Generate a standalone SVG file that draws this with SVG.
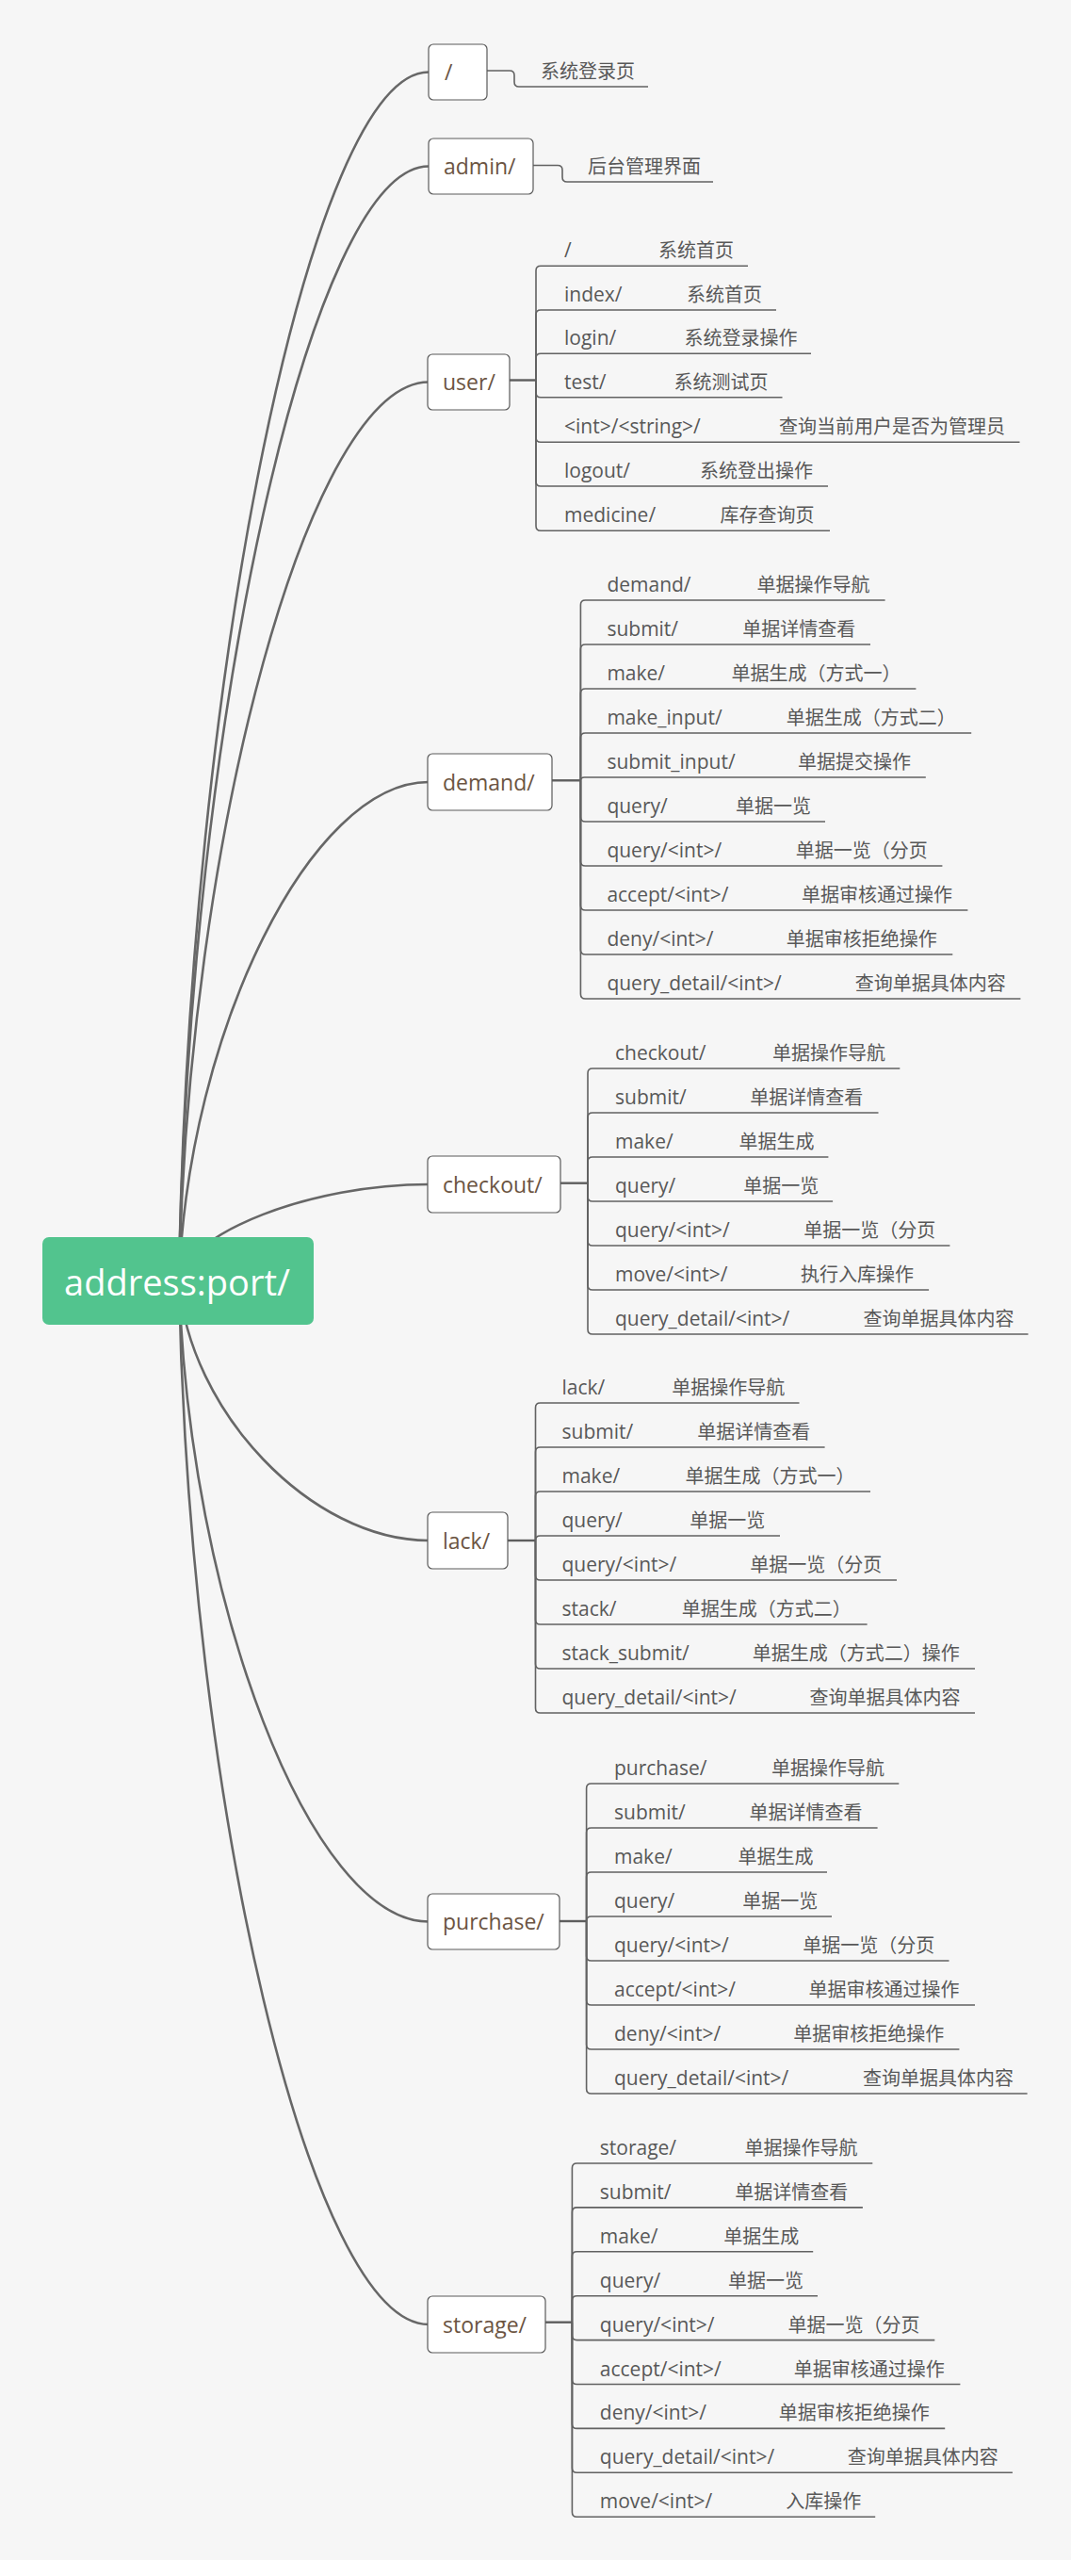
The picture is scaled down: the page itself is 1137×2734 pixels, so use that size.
<svg xmlns="http://www.w3.org/2000/svg" width="1137" height="2734" viewBox="0 0 1137 2734">
<style>
.main{fill:none;stroke:#676767;stroke-width:2.6}
.leaf{fill:none;stroke:#626262;stroke-width:1.6}
.nc{fill:none;stroke:#5e5e5e;stroke-width:2.4}
.nrect{fill:#ffffff;stroke:#5a5a5a;stroke-width:1.2}
.ntext{font-family:"Open Sans","Noto Sans CJK SC",sans-serif;font-size:23px;fill:#6b5442}
.lt{font-family:"Open Sans","Noto Sans CJK SC",sans-serif;font-size:21px;fill:#585858}
.ct{font-family:"Noto Sans CJK SC",sans-serif;font-size:20px;fill:#585858}
</style>
<rect x="0" y="0" width="1137" height="2734" fill="#ffffff"/>
<rect x="0" y="0" width="1137" height="2717" fill="#f6f6f6"/>
<g id="connectors">
<path class="main" d="M190,1359 C200,717.8 330,76.5 455,76.5"/>
<path class="main" d="M190,1359 C200,767.8 330,176.5 455,176.5"/>
<path class="main" d="M190,1359 C200,882.3 330,405.5 455,405.5"/>
<path class="main" d="M190,1359 C200,1094.5 330,830 455,830"/>
<path class="main" d="M190,1359 C200,1308 330,1257 455,1257"/>
<path class="main" d="M190,1359 C200,1497 330,1635 455,1635"/>
<path class="main" d="M190,1359 C200,1699.3 330,2039.5 455,2039.5"/>
<path class="main" d="M190,1359 C200,1913 330,2467 455,2467"/>
<!-- / -->
<path class="leaf" d="M517,75 H541 Q546,75 546,80 V87 Q546,92 551,92 H688"/>
<!-- admin -->
<path class="leaf" d="M566,175.5 H592 Q597,175.5 597,180.5 V188 Q597,193 602,193 H757"/>
<!-- user -->
<line class="nc" x1="541" y1="403.5" x2="569" y2="403.5"/>
<path class="leaf" d="M569,403.5 V287.3 Q569,282.3 574,282.3 H794"/>
<path class="leaf" d="M569,403.5 V334 Q569,329 574,329 H824"/>
<path class="leaf" d="M569,403.5 V380.3 Q569,375.3 574,375.3 H861"/>
<path class="leaf" d="M569,403.5 V416.7 Q569,421.7 574,421.7 H830.5"/>
<path class="leaf" d="M569,403.5 V464.3 Q569,469.3 574,469.3 H1082.5"/>
<path class="leaf" d="M569,403.5 V511 Q569,516 574,516 H879"/>
<path class="leaf" d="M569,403.5 V558.3 Q569,563.3 574,563.3 H881"/>
<!-- demand -->
<line class="nc" x1="586" y1="828.3" x2="616.4" y2="828.3"/>
<path class="leaf" d="M616.4,828.3 V642 Q616.4,637 621.4,637 H939.6"/>
<path class="leaf" d="M616.4,828.3 V689 Q616.4,684 621.4,684 H924"/>
<path class="leaf" d="M616.4,828.3 V736 Q616.4,731 621.4,731 H972.4"/>
<path class="leaf" d="M616.4,828.3 V783 Q616.4,778 621.4,778 H1031.2"/>
<path class="leaf" d="M616.4,828.3 Q616.4,825 620.4,825 H982.8"/>
<path class="leaf" d="M616.4,828.3 V867 Q616.4,872 621.4,872 H876"/>
<path class="leaf" d="M616.4,828.3 V914 Q616.4,919 621.4,919 H1000.4"/>
<path class="leaf" d="M616.4,828.3 V961 Q616.4,966 621.4,966 H1027.4"/>
<path class="leaf" d="M616.4,828.3 V1008 Q616.4,1013 621.4,1013 H1011.3"/>
<path class="leaf" d="M616.4,828.3 V1055 Q616.4,1060 621.4,1060 H1083.4"/>
<!-- checkout -->
<line class="nc" x1="595" y1="1255.7" x2="624" y2="1255.7"/>
<path class="leaf" d="M624,1255.7 V1139 Q624,1134 629,1134 H955.3"/>
<path class="leaf" d="M624,1255.7 V1186 Q624,1181 629,1181 H932.5"/>
<path class="leaf" d="M624,1255.7 V1233 Q624,1228 629,1228 H879.4"/>
<path class="leaf" d="M624,1255.7 V1270 Q624,1275 629,1275 H884.1"/>
<path class="leaf" d="M624,1255.7 V1317 Q624,1322 629,1322 H1008.4"/>
<path class="leaf" d="M624,1255.7 V1364 Q624,1369 629,1369 H986.1"/>
<path class="leaf" d="M624,1255.7 V1411 Q624,1416 629,1416 H1091.5"/>
<!-- lack -->
<line class="nc" x1="539" y1="1635" x2="568.5" y2="1635"/>
<path class="leaf" d="M568.5,1635 V1494 Q568.5,1489 573.5,1489 H848.5"/>
<path class="leaf" d="M568.5,1635 V1541 Q568.5,1536 573.5,1536 H875.6"/>
<path class="leaf" d="M568.5,1635 V1588 Q568.5,1583 573.5,1583 H924"/>
<path class="leaf" d="M568.5,1635 Q568.5,1630 573.5,1630 H828"/>
<path class="leaf" d="M568.5,1635 V1672 Q568.5,1677 573.5,1677 H952"/>
<path class="leaf" d="M568.5,1635 V1719 Q568.5,1724 573.5,1724 H920.6"/>
<path class="leaf" d="M568.5,1635 V1766 Q568.5,1771 573.5,1771 H1035"/>
<path class="leaf" d="M568.5,1635 V1813 Q568.5,1818 573.5,1818 H1035"/>
<!-- purchase -->
<line class="nc" x1="594" y1="2039" x2="622.6" y2="2039"/>
<path class="leaf" d="M622.6,2039 V1898 Q622.6,1893 627.6,1893 H954.3"/>
<path class="leaf" d="M622.6,2039 V1945 Q622.6,1940 627.6,1940 H931.6"/>
<path class="leaf" d="M622.6,2039 V1992 Q622.6,1987 627.6,1987 H878"/>
<path class="leaf" d="M622.6,2039 Q622.6,2034 627.6,2034 H883"/>
<path class="leaf" d="M622.6,2039 V2076 Q622.6,2081 627.6,2081 H1007.5"/>
<path class="leaf" d="M622.6,2039 V2123 Q622.6,2128 627.6,2128 H1035"/>
<path class="leaf" d="M622.6,2039 V2170 Q622.6,2175 627.6,2175 H1018.4"/>
<path class="leaf" d="M622.6,2039 V2217 Q622.6,2222 627.6,2222 H1090.6"/>
<!-- storage -->
<line class="nc" x1="579" y1="2464.7" x2="607.4" y2="2464.7"/>
<path class="leaf" d="M607.4,2464.7 V2301 Q607.4,2296 612.4,2296 H926.3"/>
<path class="leaf" d="M607.4,2464.7 V2347.9 Q607.4,2342.9 612.4,2342.9 H915.9"/>
<path class="leaf" d="M607.4,2464.7 V2394.8 Q607.4,2389.8 612.4,2389.8 H863.2"/>
<path class="leaf" d="M607.4,2464.7 V2441.7 Q607.4,2436.7 612.4,2436.7 H868"/>
<path class="leaf" d="M607.4,2464.7 V2478.6 Q607.4,2483.6 612.4,2483.6 H992.3"/>
<path class="leaf" d="M607.4,2464.7 V2525.5 Q607.4,2530.5 612.4,2530.5 H1019.4"/>
<path class="leaf" d="M607.4,2464.7 V2572.4 Q607.4,2577.4 612.4,2577.4 H1003.2"/>
<path class="leaf" d="M607.4,2464.7 V2619.3 Q607.4,2624.3 612.4,2624.3 H1074.9"/>
<path class="leaf" d="M607.4,2464.7 V2666.2 Q607.4,2671.2 612.4,2671.2 H929.2"/>
</g>
<g id="root">
<rect x="45" y="1313" width="288" height="93" rx="7" fill="#52c48e"/>
<text x="188" y="1375" text-anchor="middle" font-family="Open Sans, Noto Sans CJK SC, sans-serif" font-size="38" fill="#ffffff">address:port/</text>
</g>
<g id="node-root-slash">
<rect class="nrect" x="455" y="47" width="62" height="59" rx="5"/>
<text class="ntext" x="472" y="85">/</text>
<text class="ct" x="574" y="83">系统登录页</text>
</g>
<g id="node-admin">
<rect class="nrect" x="455" y="147" width="111" height="59" rx="5"/>
<text class="ntext" x="471" y="185">admin/</text>
<text class="ct" x="624" y="184">后台管理界面</text>
</g>
<g id="node-user">
<rect class="nrect" x="454" y="376" width="87" height="59" rx="5"/>
<text class="ntext" x="470" y="414">user/</text>
<text class="lt" y="273.3"><tspan x="599">/</tspan><tspan class="ct" x="699">系统首页</tspan></text>
<text class="lt" y="320"><tspan x="599">index/</tspan><tspan class="ct" x="729">系统首页</tspan></text>
<text class="lt" y="366.3"><tspan x="599">login/</tspan><tspan class="ct" x="726.5">系统登录操作</tspan></text>
<text class="lt" y="412.7"><tspan x="599">test/</tspan><tspan class="ct" x="715.6">系统测试页</tspan></text>
<text class="lt" y="460.3"><tspan x="599">&lt;int&gt;/&lt;string&gt;/</tspan><tspan class="ct" x="827">查询当前用户是否为管理员</tspan></text>
<text class="lt" y="507"><tspan x="599">logout/</tspan><tspan class="ct" x="743">系统登出操作</tspan></text>
<text class="lt" y="554.3"><tspan x="599">medicine/</tspan><tspan class="ct" x="764.5">库存查询页</tspan></text>
</g>
<g id="node-demand">
<rect class="nrect" x="454" y="800" width="132" height="60" rx="5"/>
<text class="ntext" x="470" y="839">demand/</text>
<text class="lt" y="628"><tspan x="644.4">demand/</tspan><tspan class="ct" x="803.4">单据操作导航</tspan></text>
<text class="lt" y="675"><tspan x="644.4">submit/</tspan><tspan class="ct" x="788.2">单据详情查看</tspan></text>
<text class="lt" y="722"><tspan x="644.4">make/</tspan><tspan class="ct" x="776.4">单据生成（方式一）</tspan></text>
<text class="lt" y="769"><tspan x="644.4">make_input/</tspan><tspan class="ct" x="834.7">单据生成（方式二）</tspan></text>
<text class="lt" y="816"><tspan x="644.4">submit_input/</tspan><tspan class="ct" x="847">单据提交操作</tspan></text>
<text class="lt" y="863"><tspan x="644.4">query/</tspan><tspan class="ct" x="781.1">单据一览</tspan></text>
<text class="lt" y="910"><tspan x="644.4">query/&lt;int&gt;/</tspan><tspan class="ct" x="844.7">单据一览（分页</tspan></text>
<text class="lt" y="957"><tspan x="644.4">accept/&lt;int&gt;/</tspan><tspan class="ct" x="850.9">单据审核通过操作</tspan></text>
<text class="lt" y="1004"><tspan x="644.4">deny/&lt;int&gt;/</tspan><tspan class="ct" x="834.7">单据审核拒绝操作</tspan></text>
<text class="lt" y="1051"><tspan x="644.4">query_detail/&lt;int&gt;/</tspan><tspan class="ct" x="907.8">查询单据具体内容</tspan></text>
</g>
<g id="node-checkout">
<rect class="nrect" x="454" y="1227" width="141" height="60" rx="5"/>
<text class="ntext" x="470" y="1266">checkout/</text>
<text class="lt" y="1125"><tspan x="653">checkout/</tspan><tspan class="ct" x="820">单据操作导航</tspan></text>
<text class="lt" y="1172"><tspan x="653">submit/</tspan><tspan class="ct" x="796.3">单据详情查看</tspan></text>
<text class="lt" y="1219"><tspan x="653">make/</tspan><tspan class="ct" x="784.4">单据生成</tspan></text>
<text class="lt" y="1266"><tspan x="653">query/</tspan><tspan class="ct" x="789.2">单据一览</tspan></text>
<text class="lt" y="1313"><tspan x="653">query/&lt;int&gt;/</tspan><tspan class="ct" x="853.2">单据一览（分页</tspan></text>
<text class="lt" y="1360"><tspan x="653">move/&lt;int&gt;/</tspan><tspan class="ct" x="850">执行入库操作</tspan></text>
<text class="lt" y="1407"><tspan x="653">query_detail/&lt;int&gt;/</tspan><tspan class="ct" x="916.4">查询单据具体内容</tspan></text>
</g>
<g id="node-lack">
<rect class="nrect" x="454" y="1605" width="85" height="60" rx="5"/>
<text class="ntext" x="470" y="1644">lack/</text>
<text class="lt" y="1480"><tspan x="596.5">lack/</tspan><tspan class="ct" x="713.2">单据操作导航</tspan></text>
<text class="lt" y="1527"><tspan x="596.5">submit/</tspan><tspan class="ct" x="740.3">单据详情查看</tspan></text>
<text class="lt" y="1574"><tspan x="596.5">make/</tspan><tspan class="ct" x="727.5">单据生成（方式一）</tspan></text>
<text class="lt" y="1621"><tspan x="596.5">query/</tspan><tspan class="ct" x="732.2">单据一览</tspan></text>
<text class="lt" y="1668"><tspan x="596.5">query/&lt;int&gt;/</tspan><tspan class="ct" x="796.3">单据一览（分页</tspan></text>
<text class="lt" y="1715"><tspan x="596.5">stack/</tspan><tspan class="ct" x="723.7">单据生成（方式二）</tspan></text>
<text class="lt" y="1762"><tspan x="596.5">stack_submit/</tspan><tspan class="ct" x="798.7">单据生成（方式二）操作</tspan></text>
<text class="lt" y="1809"><tspan x="596.5">query_detail/&lt;int&gt;/</tspan><tspan class="ct" x="859.4">查询单据具体内容</tspan></text>
</g>
<g id="node-purchase">
<rect class="nrect" x="454" y="2010" width="140" height="59" rx="5"/>
<text class="ntext" x="470" y="2048">purchase/</text>
<text class="lt" y="1884"><tspan x="652">purchase/</tspan><tspan class="ct" x="819">单据操作导航</tspan></text>
<text class="lt" y="1931"><tspan x="652">submit/</tspan><tspan class="ct" x="795.4">单据详情查看</tspan></text>
<text class="lt" y="1978"><tspan x="652">make/</tspan><tspan class="ct" x="783.5">单据生成</tspan></text>
<text class="lt" y="2025"><tspan x="652">query/</tspan><tspan class="ct" x="788.2">单据一览</tspan></text>
<text class="lt" y="2072"><tspan x="652">query/&lt;int&gt;/</tspan><tspan class="ct" x="852.3">单据一览（分页</tspan></text>
<text class="lt" y="2119"><tspan x="652">accept/&lt;int&gt;/</tspan><tspan class="ct" x="858.5">单据审核通过操作</tspan></text>
<text class="lt" y="2166"><tspan x="652">deny/&lt;int&gt;/</tspan><tspan class="ct" x="842.3">单据审核拒绝操作</tspan></text>
<text class="lt" y="2213"><tspan x="652">query_detail/&lt;int&gt;/</tspan><tspan class="ct" x="915.9">查询单据具体内容</tspan></text>
</g>
<g id="node-storage">
<rect class="nrect" x="454" y="2437" width="125" height="60" rx="5"/>
<text class="ntext" x="470" y="2476">storage/</text>
<text class="lt" y="2287"><tspan x="636.8">storage/</tspan><tspan class="ct" x="790.6">单据操作导航</tspan></text>
<text class="lt" y="2333.9"><tspan x="636.8">submit/</tspan><tspan class="ct" x="780.2">单据详情查看</tspan></text>
<text class="lt" y="2380.8"><tspan x="636.8">make/</tspan><tspan class="ct" x="768.3">单据生成</tspan></text>
<text class="lt" y="2427.7"><tspan x="636.8">query/</tspan><tspan class="ct" x="773">单据一览</tspan></text>
<text class="lt" y="2474.6"><tspan x="636.8">query/&lt;int&gt;/</tspan><tspan class="ct" x="836.6">单据一览（分页</tspan></text>
<text class="lt" y="2521.5"><tspan x="636.8">accept/&lt;int&gt;/</tspan><tspan class="ct" x="842.8">单据审核通过操作</tspan></text>
<text class="lt" y="2568.4"><tspan x="636.8">deny/&lt;int&gt;/</tspan><tspan class="ct" x="826.7">单据审核拒绝操作</tspan></text>
<text class="lt" y="2615.3"><tspan x="636.8">query_detail/&lt;int&gt;/</tspan><tspan class="ct" x="899.8">查询单据具体内容</tspan></text>
<text class="lt" y="2662.2"><tspan x="636.8">move/&lt;int&gt;/</tspan><tspan class="ct" x="834.3">入库操作</tspan></text>
</g>
</svg>
